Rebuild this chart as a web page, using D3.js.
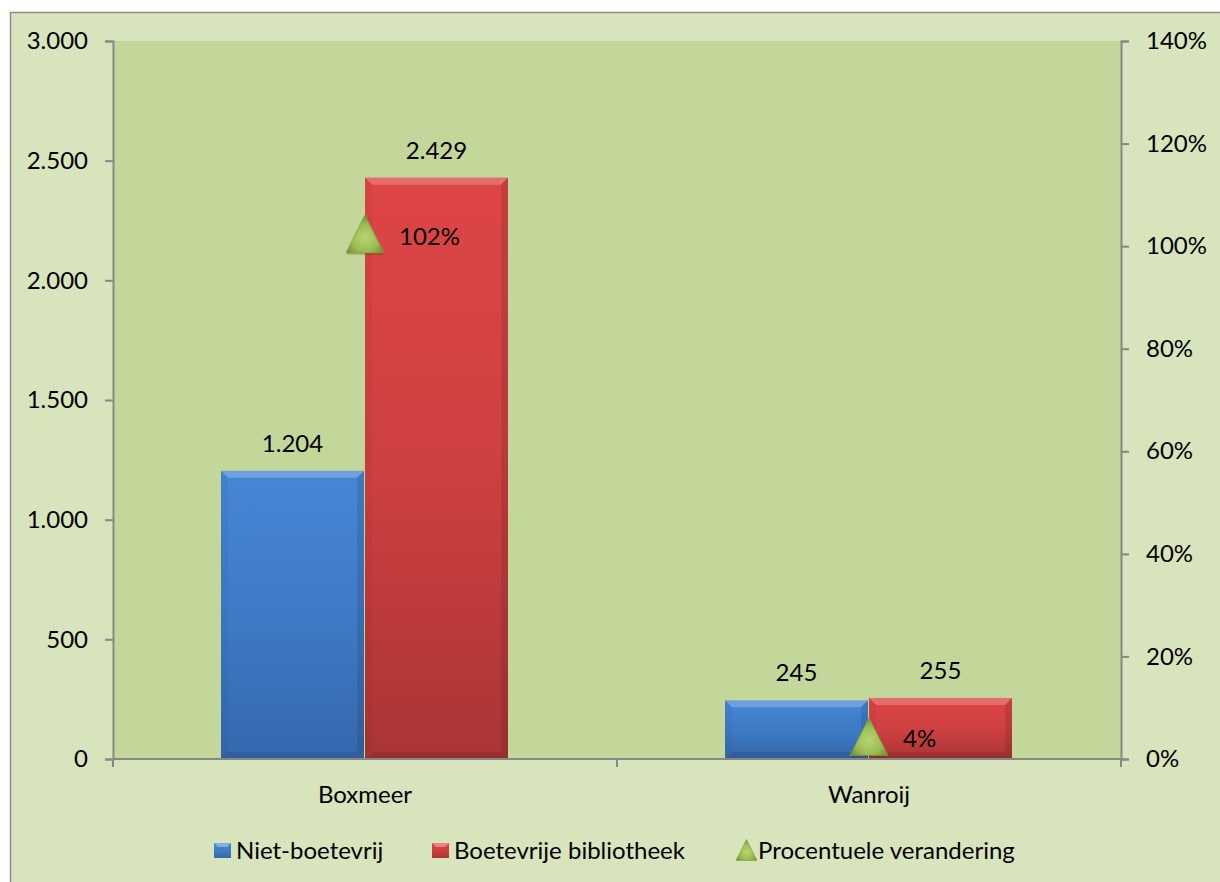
<!DOCTYPE html>
<html>
<head>
<meta charset="utf-8">
<script src="https://cdn.jsdelivr.net/npm/d3@7"></script>
<style>
  html, body { margin: 0; padding: 0; background: #ffffff; }
  svg { display: block; }
  text { font-family: Lato, "Open Sans", "Liberation Sans", sans-serif; fill: #000; }
</style>
</head>
<body>
<svg id="chart" width="1220" height="882"></svg>
<script>
// ---- data ----
const categories = ["Boxmeer", "Wanroij"];
const seriesNames = ["Niet-boetevrij", "Boetevrije bibliotheek"];
const nietBoetevrij = [1204, 245];
const boetevrijeBibliotheek = [2429, 255];
const procentueleVerandering = [1.02, 0.04];
const lineSeriesName = "Procentuele verandering";
const leftTicks = [0, 500, 1000, 1500, 2000, 2500, 3000];
const rightTicks = [0, 0.2, 0.4, 0.6, 0.8, 1.0, 1.2, 1.4];

// ---- layout ----
const svg = d3.select("#chart");
const W = 1220, H = 882;
const plot = { left: 113, right: 1121, top: 41, bottom: 759 };
const fontSize = 24;

const nl = d3.formatLocale({ decimal: ",", thousands: ".", grouping: [3], currency: ["€", ""] });
const fmtNum = nl.format(",d");
const fmtPct = d3.format(".0%");

const defs = svg.append("defs");
function vGrad(id, stops) {
  const g = defs.append("linearGradient").attr("id", id).attr("x1", 0).attr("y1", 0).attr("x2", 0).attr("y2", 1);
  stops.forEach(s => g.append("stop").attr("offset", s[0]).attr("stop-color", s[1]));
}
vGrad("gBlue", [[0, "#4687d5"], [0.5, "#3e7ac6"], [1, "#3668ad"]]);
vGrad("gRed", [[0, "#de4545"], [0.5, "#cf4040"], [1, "#aa3535"]]);
const rg = defs.append("radialGradient").attr("id", "gTri").attr("cx", "50%").attr("cy", "60%").attr("r", "60%");
rg.append("stop").attr("offset", 0).attr("stop-color", "#b8d66e");
rg.append("stop").attr("offset", 0.6).attr("stop-color", "#9bbb55");
rg.append("stop").attr("offset", 1).attr("stop-color", "#6f8c34");

// outer chart area
svg.append("rect").attr("x", 10.5).attr("y", 12.5).attr("width", W).attr("height", H)
  .attr("fill", "#d8e4bc").attr("stroke", "#8c8c8c").attr("stroke-width", 1.5);
// plot area
svg.append("rect").attr("x", plot.left).attr("y", plot.top)
  .attr("width", plot.right - plot.left).attr("height", plot.bottom - plot.top)
  .attr("fill", "#c4d79b");

// ---- scales ----
const x0 = d3.scaleBand().domain(categories).range([plot.left, plot.right])
  .paddingInner(3 / 7).paddingOuter(1.5 / 7);
const x1 = d3.scaleBand().domain(seriesNames).range([0, x0.bandwidth()]);
const xCat = d3.scaleBand().domain(categories).range([plot.left, plot.right]);
const yL = d3.scaleLinear().domain([0, 3000]).range([plot.bottom, plot.top]);
const yR = d3.scaleLinear().domain([0, 1.4]).range([plot.bottom, plot.top]);

// ---- bars ----
const barData = [];
categories.forEach((c, i) => {
  barData.push({ cat: c, s: seriesNames[0], v: nietBoetevrij[i], fill: "url(#gBlue)" });
  barData.push({ cat: c, s: seriesNames[1], v: boetevrijeBibliotheek[i], fill: "url(#gRed)" });
});
const gBars = svg.append("g");
const poly = pts => "M" + pts.map(p => p.join(",")).join("L") + "Z";
barData.forEach(d => {
  const x = x0(d.cat) + x1(d.s), w = x1.bandwidth() - 1;
  const y = yL(d.v), h = yL(0) - yL(d.v);
  const b = Math.min(7, h / 3);
  const g = gBars.append("g");
  g.append("rect").attr("x", x).attr("y", y).attr("width", w).attr("height", h).attr("fill", d.fill);
  // bevel facets
  g.append("path").attr("d", poly([[x, y], [x + w, y], [x + w - b, y + b], [x + b, y + b]]))
    .attr("fill", "#ffffff").attr("opacity", 0.22);
  g.append("path").attr("d", poly([[x, y], [x + b, y + b], [x + b, y + h - b], [x, y + h]]))
    .attr("fill", "#000").attr("opacity", 0.04);
  g.append("path").attr("d", poly([[x + w, y], [x + w - b, y + b], [x + w - b, y + h - b], [x + w, y + h]]))
    .attr("fill", "#000").attr("opacity", 0.1);
  g.append("path").attr("d", poly([[x, y + h], [x + b, y + h - b], [x + w - b, y + h - b], [x + w, y + h]]))
    .attr("fill", "#000").attr("opacity", 0.1);
  // value label
  svg.append("text").attr("x", x + w / 2).attr("y", y - 19)
    .attr("text-anchor", "middle").attr("font-size", fontSize).text(fmtNum(d.v));
});

// ---- axes ----
const axisColor = "#878787";
const gL = svg.append("g").attr("transform", `translate(${plot.left},0)`)
  .call(d3.axisLeft(yL).tickValues(leftTicks).tickSize(8).tickPadding(17).tickFormat(fmtNum));
const gR = svg.append("g").attr("transform", `translate(${plot.right},0)`)
  .call(d3.axisRight(yR).tickValues(rightTicks).tickSize(8).tickPadding(17).tickFormat(fmtPct));
const gB = svg.append("g").attr("transform", `translate(0,${plot.bottom})`)
  .call(d3.axisBottom(xCat).tickSize(0).tickPadding(27));
[gL, gR, gB].forEach(g => {
  g.select(".domain").attr("stroke", axisColor).attr("stroke-width", 2);
  g.selectAll(".tick line").attr("stroke", axisColor).attr("stroke-width", 2);
  g.selectAll("text").attr("font-size", fontSize).attr("font-family", "Lato, 'Open Sans', sans-serif").attr("fill", "#000");
});
gB.select(".domain").attr("d", `M${plot.left},0H${plot.right}`);
svg.append("g").selectAll("line")
  .data([plot.left, ...categories.map(c => xCat(c) + xCat.bandwidth())])
  .join("line")
  .attr("x1", d => d).attr("x2", d => d).attr("y1", plot.bottom).attr("y2", plot.bottom + 8)
  .attr("stroke", axisColor).attr("stroke-width", 2);

// ---- triangle markers (right axis) ----
const triPath = (cx, cy, s) => `M${cx},${cy - s * 0.55}L${cx + s / 2},${cy + s * 0.45}L${cx - s / 2},${cy + s * 0.45}Z`;
categories.forEach((c, i) => {
  const cx = x0(c) + x0.bandwidth() / 2;
  const cy = yR(procentueleVerandering[i]);
  svg.append("path").attr("d", triPath(cx + 1, cy + 2, 38)).attr("fill", "#000").attr("opacity", 0.15);
  svg.append("path").attr("d", triPath(cx, cy, 38)).attr("fill", "url(#gTri)")
    .attr("stroke", "#7f9d3f").attr("stroke-width", 0.8);
  svg.append("text").attr("x", cx + 34).attr("y", cy + 9)
    .attr("font-size", fontSize).text(fmtPct(procentueleVerandering[i]));
});

// ---- legend ----
const legY = 851;
const leg = svg.append("g");
const legItems = [
  { name: seriesNames[0], type: "rect", fill: "url(#gBlue)", x: 214 },
  { name: seriesNames[1], type: "rect", fill: "url(#gRed)", x: 432 },
  { name: lineSeriesName, type: "tri", fill: "url(#gTri)", x: 736 }
];
legItems.forEach(it => {
  if (it.type === "rect") {
    leg.append("rect").attr("x", it.x).attr("y", legY - 8).attr("width", 17).attr("height", 15).attr("fill", it.fill);
    leg.append("path").attr("d", `M${it.x},${legY - 8}H${it.x + 17}L${it.x + 13},${legY - 4}H${it.x + 4}Z`)
      .attr("fill", "#fff").attr("opacity", 0.35);
  } else {
    leg.append("path").attr("d", triPath(it.x + 10.5, legY, 21)).attr("fill", it.fill)
      .attr("stroke", "#7f9d3f").attr("stroke-width", 0.6);
  }
  leg.append("text").attr("x", it.x + 22).attr("y", legY + 8).attr("font-size", fontSize).text(it.name);
});
</script>
</body>
</html>
